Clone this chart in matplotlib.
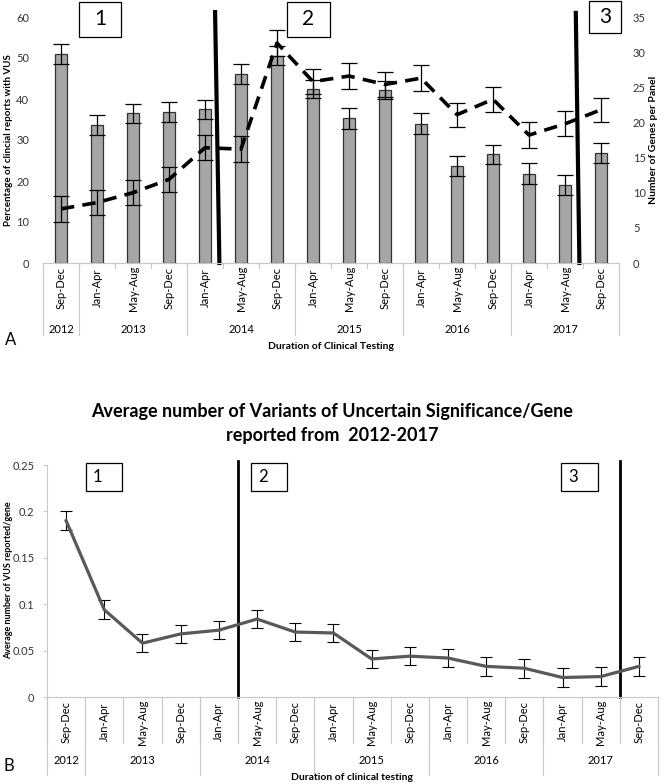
import numpy as np
import matplotlib.pyplot as plt
import matplotlib.transforms as mtransforms
from matplotlib.patches import Rectangle

plt.rcParams['font.family'] = ['Lato', 'DejaVu Sans']

W, H = 664, 784

months = ["Sep-Dec", "Jan-Apr", "May-Aug", "Sep-Dec", "Jan-Apr", "May-Aug", "Sep-Dec",
          "Jan-Apr", "May-Aug", "Sep-Dec", "Jan-Apr", "May-Aug", "Sep-Dec",
          "Jan-Apr", "May-Aug", "Sep-Dec"]
years = ["2012", "2013", "2014", "2015", "2016", "2017"]
year_counts = [1, 3, 3, 3, 3, 3]

# panel A
vus_pct = [51.0, 33.7, 36.5, 36.8, 37.5, 46.1, 50.6, 42.4,
           35.3, 42.3, 34.0, 23.6, 26.5, 21.8, 19.0, 26.8]
vus_pct_err = [2.4, 2.4, 2.3, 2.5, 2.3, 2.4, 2.4, 2.2,
               2.6, 2.2, 2.5, 2.5, 2.4, 2.5, 2.5, 2.4]
genes = [7.7, 8.6, 10.0, 11.9, 16.4, 16.2, 31.3, 25.8,
         26.6, 25.4, 26.3, 21.1, 23.3, 18.2, 19.8, 21.8]
genes_err = [1.8, 1.8, 1.8, 1.8, 1.8, 1.8, 1.8, 1.8,
             1.8, 1.8, 1.8, 1.7, 1.8, 1.8, 1.8, 1.7]

# panel B
vus_per_gene = [0.19, 0.094, 0.058, 0.068, 0.072, 0.084, 0.070, 0.069,
                0.041, 0.044, 0.042, 0.033, 0.031, 0.021, 0.022, 0.033]
vus_per_gene_err = [0.01, 0.01, 0.01, 0.01, 0.01, 0.01, 0.01, 0.01,
                    0.01, 0.01, 0.01, 0.01, 0.01, 0.01, 0.01, 0.01]

x = np.arange(len(months))


def fx(px):
    return px / W


def fy(py):
    return 1 - py / H


fig = plt.figure(figsize=(W / 100, H / 100), dpi=100)
axis_px = {}


def cat_axis(ax, month_y, year_y, tick_end, year_end):
    blend = mtransforms.blended_transform_factory(ax.transData, fig.transFigure)
    for i, m in enumerate(months):
        ax.text(i, fy(month_y), m, rotation=90, ha='center', va='center',
                fontsize=8, transform=blend)
    start = 0
    bounds = [-0.5]
    for yr, n in zip(years, year_counts):
        ax.text(start + (n - 1) / 2, fy(year_y), yr, ha='center', va='center',
                fontsize=8, transform=blend)
        start += n
        bounds.append(start - 0.5)
    for b in np.arange(-0.5, len(months), 1.0):
        ax.plot([b, b], [fy(axis_px[ax]), fy(tick_end)], color='#c8c8c8', lw=0.8,
                transform=blend, clip_on=False)
    for b in bounds:
        ax.plot([b, b], [fy(axis_px[ax]), fy(year_end)], color='#c8c8c8', lw=0.8,
                transform=blend, clip_on=False)


# ---------- panel A ----------
ax = fig.add_axes([fx(43), fy(263), fx(619 - 43), (263 - 17) / H])
axis_px[ax] = 263
ax2 = ax.twinx()

ax.bar(x, vus_pct, width=0.33, color='#a6a6a6', edgecolor='#333333', lw=0.9,
       yerr=vus_pct_err, error_kw=dict(ecolor='black', elinewidth=0.9, capsize=6, capthick=0.9))
ax2.errorbar(x, genes, yerr=genes_err, color='black', lw=2.6, dashes=(3.7, 2.3),
             ecolor='black', elinewidth=0.9, capsize=6, capthick=0.9)
ax2.set_zorder(2)
ax.set_zorder(1)
ax2.patch.set_visible(False)

ax.set_xlim(-0.5, 15.5)
ax.set_ylim(0, 60)
ax.set_yticks(range(0, 61, 10))
ax2.set_ylim(0, 35)
ax2.set_yticks(range(0, 36, 5))
for a in (ax, ax2):
    for s in ('top', 'left', 'right'):
        a.spines[s].set_visible(False)
    a.spines['bottom'].set_color('#c8c8c8')
    a.set_xticks([])
ax.tick_params(axis='y', length=0, pad=10, labelsize=8, labelcolor='#333333')
ax2.tick_params(axis='y', length=0, pad=10, labelsize=8, labelcolor='#333333')

ax2.plot([4.28, 4.4], [61.2 * 35 / 60, 0], color='black', lw=3, clip_on=False)
ax2.plot([14.3, 14.4], [61.0 * 35 / 60, 0], color='black', lw=3, clip_on=False)

for (x0, x1, y0, y1, t) in [(0.5, 1.67, 55.1, 63.7, "1"), (6.28, 7.47, 55.1, 63.7, "2"),
                            (14.67, 15.55, 56.1, 64.0, "3")]:
    ax2.add_patch(Rectangle((x0, y0 * 35 / 60), x1 - x0, (y1 - y0) * 35 / 60, fill=False,
                            edgecolor='black', lw=0.9, clip_on=False))
    ax2.text((x0 + x1) / 2, (y0 + y1) / 2 * 35 / 60, t, ha='center', va='center',
             fontsize=15, clip_on=False)

# ---------- panel B ----------
bx = fig.add_axes([fx(47), fy(697), fx(658 - 47), (697 - 465) / H])
axis_px[bx] = 697
bx.errorbar(x, vus_per_gene, yerr=vus_per_gene_err, color='#595959', lw=2.3,
            ecolor='black', elinewidth=0.8, capsize=4, capthick=0.8)
bx.set_xlim(-0.5, 15.5)
bx.set_ylim(0, 0.25)
bx.set_yticks([0, 0.05, 0.1, 0.15, 0.2, 0.25])
bx.set_yticklabels(["0", "0.05", "0.1", "0.15", "0.2", "0.25"])
bx.set_xticks([])
for s in ('top', 'right'):
    bx.spines[s].set_visible(False)
bx.spines['bottom'].set_color('#c8c8c8')
bx.spines['left'].set_color('#c8c8c8')
bx.tick_params(axis='y', length=3, color='#c8c8c8', pad=6, labelsize=8, labelcolor='#333333')

bx.plot([4.5, 4.5], [0, 0.254], color='black', lw=2, clip_on=False)
bx.plot([14.5, 14.5], [0, 0.254], color='black', lw=2, clip_on=False)
for (x0, x1, t) in [(0.52, 1.46, "1"), (4.84, 5.78, "2"), (12.96, 13.92, "3")]:
    bx.add_patch(Rectangle((x0, 0.222), x1 - x0, 0.030, fill=False,
                           edgecolor='black', lw=0.9, clip_on=False))
    bx.text(x0 + 0.31, 0.237, t, ha='center', va='center', fontsize=12, clip_on=False)

cat_axis(ax, 288, 329, 268, 335)
cat_axis(bx, 722, 761, 743, 775)

# texts
fig.text(fx(8.5), fy(140), "Percentage of clincial reports with VUS", rotation=90,
         ha='center', va='center', fontsize=7, fontweight='bold')
fig.text(fx(654), fy(140), "Number of Genes per Panel", rotation=90,
         ha='center', va='center', fontsize=7.5, fontweight='bold')
fig.text(fx(331), fy(347), "Duration of Clinical Testing", ha='center', va='center',
         fontsize=7.5, fontweight='bold')
fig.text(fx(11), fy(340), "A", ha='center', va='center', fontsize=12)

fig.text(fx(332), fy(412), "Average number of Variants of Uncertain Significance/Gene",
         ha='center', va='center', fontsize=13, fontweight='bold')
fig.text(fx(332), fy(435), "reported from  2012-2017",
         ha='center', va='center', fontsize=13, fontweight='bold')
fig.text(fx(8.5), fy(580), "Average number of VUS reported/gene", rotation=90,
         ha='center', va='center', fontsize=6.5, fontweight='bold')
fig.text(fx(352), fy(777), "Duration of clinical testing", ha='center', va='center',
         fontsize=7.5, fontweight='bold')
fig.text(fx(9), fy(766), "B", ha='center', va='center', fontsize=12)

fig.savefig("out.png", dpi=100)
